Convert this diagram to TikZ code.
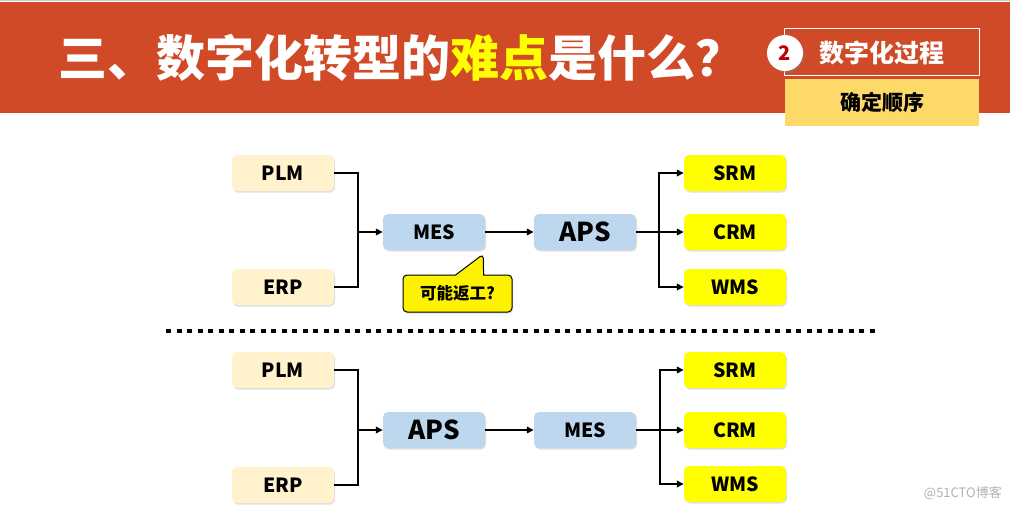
\documentclass[tikz,border=0pt]{standalone}
\usepackage{fontspec}
\setmainfont{Noto Sans CJK SC}
\usepackage{tikz}
\usetikzlibrary{arrows.meta,shapes.callouts,shadows}
\definecolor{bandred}{HTML}{D04A27}
\definecolor{titleyellow}{HTML}{FFFF00}
\definecolor{stepgold}{HTML}{FDD96A}
\definecolor{numred}{HTML}{C00000}
\definecolor{srcfill}{HTML}{FFF2CC}
\definecolor{sysfill}{HTML}{BDD7EE}
\definecolor{outfill}{HTML}{FFFF00}

\begin{document}
\begin{tikzpicture}[x=1pt,y=-1pt,>={Triangle[length=7pt,width=6.5pt]},
  box/.style={rectangle,rounded corners=5pt,minimum width=102pt,minimum height=36pt,inner sep=0pt,font=\fontsize{19.5}{21}\selectfont\bfseries,drop shadow={shadow xshift=1pt,shadow yshift=-1.5pt,opacity=0.25}},
  srcbox/.style={box,fill=srcfill},
  sysbox/.style={box,fill=sysfill},
  bigsys/.style={sysbox,font=\fontsize{26}{28}\selectfont\bfseries},
  outbox/.style={box,fill=outfill},
  link/.style={draw=black,line width=2pt}]
\useasboundingbox (0,0) rectangle (1010,511);
% header band
\fill[bandred] (0,2) rectangle (1010,113);
\draw[gray!40,line width=1pt] (0,0.5) -- (1010,0.5);
\node[anchor=west,inner sep=0pt,text=white,font=\fontsize{49}{52}\selectfont\bfseries] (title) at (58,58) {三、数字化转型的\textcolor{titleyellow}{难点}是什么？};
\node[draw=white,line width=1pt,minimum width=195pt,minimum height=47pt,inner sep=0pt,text=white,font=\fontsize{25}{27}\selectfont\bfseries] (proc) at (881.5,52.5) {数字化过程};
\node[circle,fill=white,minimum size=36pt,inner sep=0pt,text=numred,font=\fontsize{20}{22}\selectfont\bfseries,drop shadow={shadow xshift=2pt,shadow yshift=-2pt,opacity=0.35}] (num) at (785,53) {2};
\node[fill=stepgold,minimum width=194pt,minimum height=47pt,inner sep=0pt,font=\fontsize{21}{23}\selectfont\bfseries] (order) at (882,102.5) {确定顺序};

% upper chain: MES before APS
\node[srcbox] (plm1) at (283,173) {PLM};
\node[srcbox] (erp1) at (283,287) {ERP};
\node[sysbox] (mes1) at (434,232) {MES};
\node[bigsys] (aps1) at (585,232) {APS};
\node[outbox] (srm1) at (735,173) {SRM};
\node[outbox] (crm1) at (735,232) {CRM};
\node[outbox] (wms1) at (735,287) {WMS};
\coordinate (join1) at (358,232);
\coordinate (fork1) at (659,232);
\draw[link] (plm1) -| (join1);
\draw[link] (erp1) -| (join1);
\draw[link,->] (join1) -- (mes1);
\draw[link,->] (mes1) -- (aps1);
\draw[link] (aps1) -- (fork1);
\draw[link,->] (fork1) |- (srm1);
\draw[link,->] (fork1) -- (crm1);
\draw[link,->] (fork1) |- (wms1);
\node[rectangle callout,rounded corners=4pt,fill=yellow,draw=black,line width=1pt,minimum width=109pt,minimum height=37pt,inner sep=0pt,callout absolute pointer={([xshift=-2pt,yshift=-4pt]mes1.south east)},callout pointer width=28pt,font=\fontsize{16.5}{18}\selectfont\bfseries,drop shadow={shadow xshift=1pt,shadow yshift=-1.5pt,opacity=0.25}] (rework) at (457.5,293.5) {可能返工?};

% separator
\draw[line width=4pt,dash pattern=on 5pt off 5.5pt] (166,331) -- (877,331);

% lower chain: APS before MES
\node[srcbox] (plm2) at (283,370) {PLM};
\node[srcbox] (erp2) at (283,485) {ERP};
\node[bigsys] (aps2) at (434,430) {APS};
\node[sysbox] (mes2) at (585,430) {MES};
\node[outbox] (srm2) at (735,370) {SRM};
\node[outbox] (crm2) at (735,430) {CRM};
\node[outbox] (wms2) at (735,484) {WMS};
\coordinate (join2) at (358,430);
\coordinate (fork2) at (660,430);
\draw[link] (plm2) -| (join2);
\draw[link] (erp2) -| (join2);
\draw[link,->] (join2) -- (aps2);
\draw[link,->] (aps2) -- (mes2);
\draw[link] (mes2) -- (fork2);
\draw[link,->] (fork2) |- (srm2);
\draw[link,->] (fork2) -- (crm2);
\draw[link,->] (fork2) |- (wms2);

\node[anchor=east,inner sep=0pt,text=gray!60,font=\fontsize{13}{14}\selectfont] (mark) at (1002,493) {@51CTO博客};
\end{tikzpicture}
\end{document}
